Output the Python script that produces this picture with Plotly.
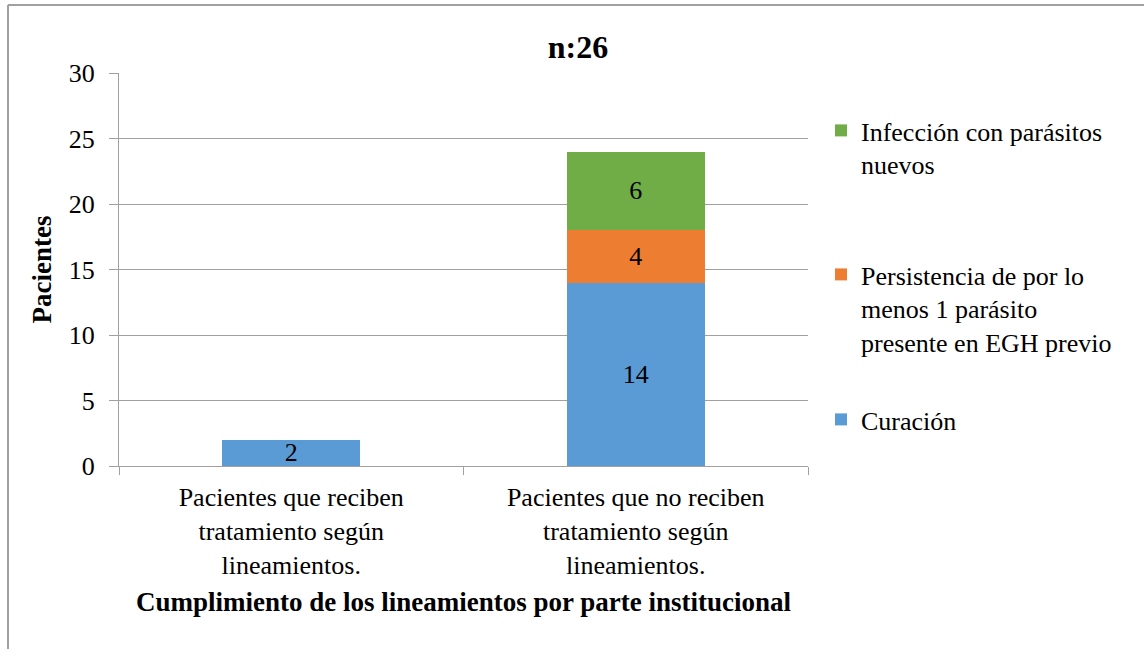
import plotly.graph_objects as go

categories = ["Pacientes que reciben<br>tratamiento según<br>lineamientos.",
              "Pacientes que no reciben<br>tratamiento según<br>lineamientos."]
curacion = [2, 14]
persistencia = [None, 4]
infeccion = [None, 6]
series_names = ["Curación",
                "Persistencia de por lo<br>menos 1 parásito<br>presente en EGH previo",
                "Infección con parásitos<br>nuevos"]
colors = ["#5B9BD5", "#ED7D31", "#70AD47"]
y_ticks = [0, 5, 10, 15, 20, 25, 30]

FONT = "Liberation Serif, Times New Roman, serif"
W, H = 1144, 649
L, R, T, B = 119, 808, 73, 466

def py(ypix):
    return (B - ypix) / (B - T)

def px(xpix):
    return (xpix - L) / (R - L)

fig = go.Figure()
legends = ["legend3", "legend2", "legend"]
for vals, name, col, lg in zip([curacion, persistencia, infeccion], series_names, colors, legends):
    fig.add_trace(go.Bar(
        x=categories, y=vals, name=name, marker=dict(color=col, line=dict(width=0)),
        text=vals, texttemplate="%{y}", textposition="inside", insidetextanchor="middle",
        textangle=0, constraintext="none", textfont=dict(family=FONT, size=26, color="black"),
        legend=lg, showlegend=True, cliponaxis=False))

def leg(ytop):
    return dict(font=dict(family=FONT, size=26, color="black"), bgcolor="rgba(0,0,0,0)",
                xanchor="left", yanchor="top", valign="top", x=px(821), y=py(ytop),
                itemclick=False)

fig.update_layout(
    width=W, height=H,
    margin=dict(l=L, r=W - R, t=T, b=H - B, pad=0),
    paper_bgcolor="white", plot_bgcolor="white",
    barmode="stack", bargap=0.6,
    font=dict(family=FONT, size=26, color="black"),
    title=dict(text="<b>n:26</b>", x=578 / W, xref="container", xanchor="center",
               y=1 - 47 / H, yref="container", yanchor="middle",
               font=dict(family=FONT, size=32, color="black")),
    xaxis=dict(showline=True, linecolor="#a0a0a0", linewidth=1,
               ticks="outside", tickson="boundaries", ticklen=8, tickcolor="#a0a0a0",
               ticklabelstandoff=8,
               tickfont=dict(family=FONT, size=26),
               title=dict(text="<b>Cumplimiento de los lineamientos por parte institucional</b>",
                          font=dict(family=FONT, size=27), standoff=13)),
    yaxis=dict(range=[0, 30], tickvals=y_ticks, showgrid=True, gridcolor="#a0a0a0", gridwidth=1,
               showline=True, linecolor="#a0a0a0", linewidth=1, zeroline=False,
               ticks="outside", ticklen=9, tickcolor="#a0a0a0", ticklabelstandoff=9,
               tickfont=dict(family=FONT, size=26),
               title=dict(text="<b>Pacientes</b>", font=dict(family=FONT, size=27), standoff=9)),
    legend=leg(107),
    legend2=leg(251),
    legend3=leg(396),
    shapes=[
        dict(type="line", xref="paper", yref="paper", x0=px(8), x1=px(1144), y0=py(5), y1=py(5),
             line=dict(color="#a0a0a0", width=2)),
        dict(type="line", xref="paper", yref="paper", x0=px(8), x1=px(8), y0=py(5), y1=py(649),
             line=dict(color="#a0a0a0", width=2)),
    ],
)

fig.write_html("out.html", config={"displayModeBar": False},
               post_script="document.body.style.margin='0';")
